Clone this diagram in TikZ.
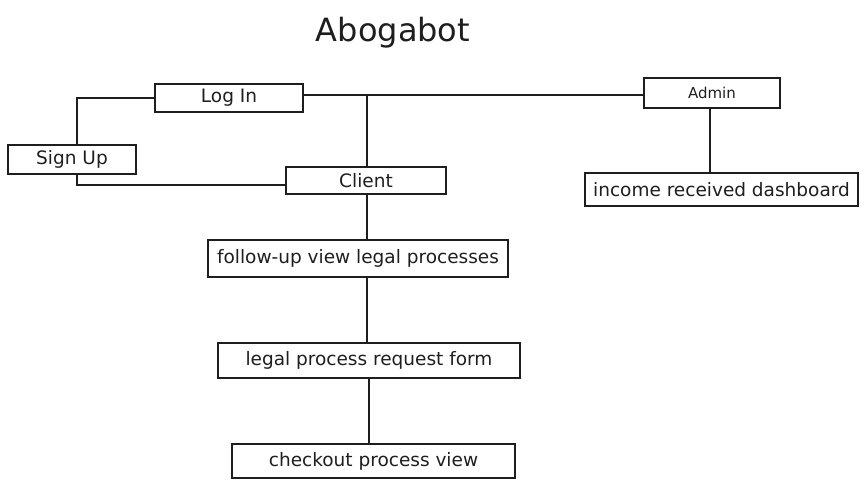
\documentclass[tikz,border=0pt]{standalone}
\usepackage{fontspec}
\setmainfont{DejaVu Sans}
\definecolor{ink}{HTML}{1E1E1E}
\begin{document}
\begin{tikzpicture}[x=1pt,y=-1pt,
  box/.style={draw=ink,line width=1.2pt,text=ink,inner sep=0pt,
    font=\fontsize{18.5}{20}\selectfont},
  wire/.style={draw=ink,line width=1.2pt}]
\useasboundingbox (0,0) rectangle (868,488);
\node[text=ink,font=\fontsize{32}{36}\selectfont] (title) at (393,33) {Abogabot};
\node[box,minimum width=148pt,minimum height=28pt] (login) at (229,98) {Log In};
\node[box,minimum width=128pt,minimum height=29pt] (signup) at (72,159.5) {Sign Up};
\node[box,minimum width=160pt,minimum height=27pt] (client) at (366,180.5) {Client};
\node[box,minimum width=136pt,minimum height=30pt,font=\fontsize{15}{17}\selectfont] (admin) at (712,93) {Admin};
\node[box,minimum width=273pt,minimum height=33pt] (income) at (721.5,189.5) {income received dashboard};
\node[box,minimum width=300pt,minimum height=37pt] (follow) at (358,258.5) {follow-up view legal processes};
\node[box,minimum width=302pt,minimum height=35pt] (legal) at (369,360.5) {legal process request form};
\node[box,minimum width=283pt,minimum height=34pt] (checkout) at (373.5,461) {checkout process view};
\coordinate (jc) at (367,95);
\draw[wire] (login.west) -| ([xshift=5pt]signup.north);
\draw[wire] ([xshift=5pt]signup.south) |- ([yshift=-4.5pt]client.west);
\draw[wire] ([yshift=3pt]login.east) -- ([yshift=-2pt]admin.west);
\draw[wire] (jc) -- (jc |- client.north);
\draw[wire] (jc |- client.south) -- (jc |- follow.north);
\draw[wire] (jc |- follow.south) -- (jc |- legal.north);
\draw[wire] (legal.south) -- (legal.south |- checkout.north);
\draw[wire] ([xshift=-2pt]admin.south) -- ([xshift=-2pt]admin.south |- income.north);
\end{tikzpicture}
\end{document}
